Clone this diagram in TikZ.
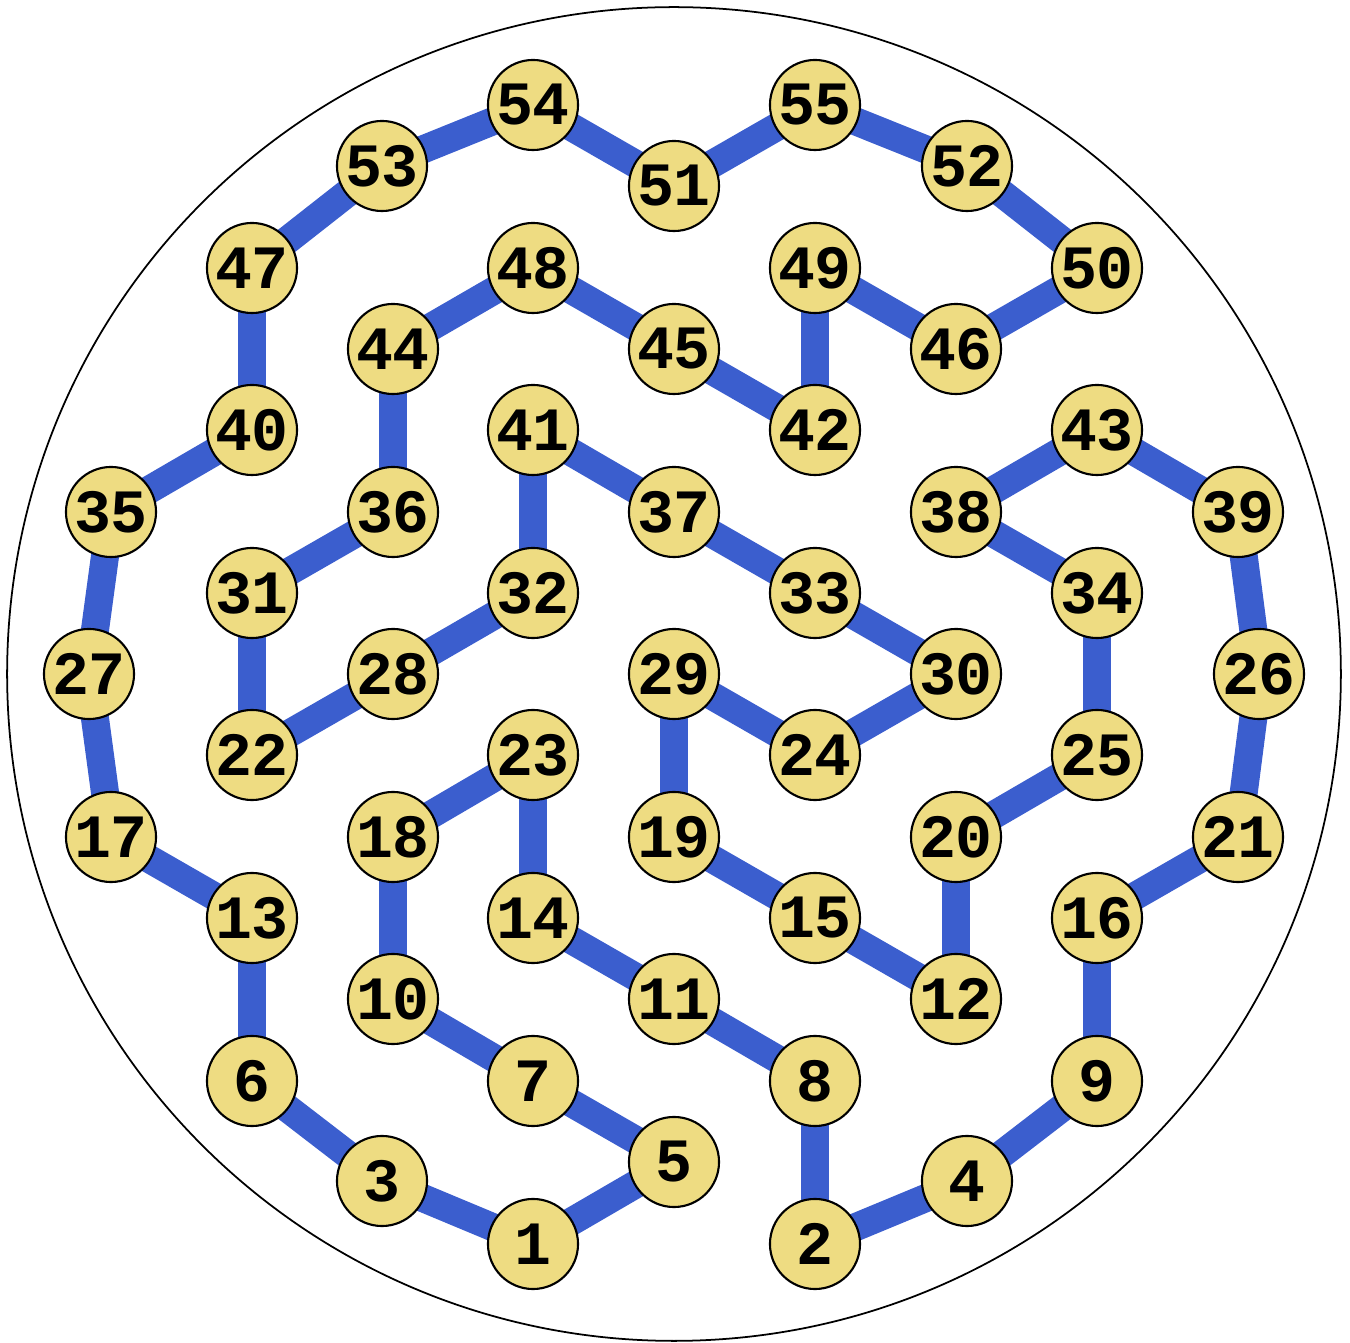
\documentclass[tikz,border=0pt]{standalone}
\usepackage{fontspec}
\newfontfamily\numfont{Liberation Mono}[BoldFont={Liberation Mono Bold}]
\definecolor{pathblue}{RGB}{59,94,206}
\definecolor{nodeyellow}{RGB}{238,220,130}
\tikzset{
  num/.style={circle, draw=black, line width=0.6pt, fill=nodeyellow, minimum size=0.9cm, inner sep=0pt, font=\numfont\bfseries\fontsize{17.5}{20}\selectfont},
  link/.style={draw=pathblue, line width=0.28cm},
}
\begin{document}
\begin{tikzpicture}[x=0.01cm,y=-0.01cm]
\useasboundingbox (0,0) rectangle (1350,1343);
\draw[line width=0.5pt] (674,674) circle [radius=6.665cm];
\foreach \n/\x/\y in {
1/533/1244, 2/815/1244, 3/382/1181, 4/967/1181, 5/674/1162,
6/252/1081, 7/533/1081, 8/815/1081, 9/1097/1081,
10/393/999, 11/674/999, 12/956/999,
13/252/918, 14/533/918, 15/815/918, 16/1097/918,
17/111/837, 18/393/837, 19/674/837, 20/956/837, 21/1238/837,
22/252/755, 23/533/755, 24/815/755, 25/1097/755,
26/1259/674, 27/89/674, 28/393/674, 29/674/674, 30/956/674,
31/252/593, 32/533/593, 33/815/593, 34/1097/593,
35/111/512, 36/393/512, 37/674/512, 38/956/512, 39/1238/512,
40/252/430, 41/533/430, 42/815/430, 43/1097/430,
44/393/349, 45/674/349, 46/956/349,
47/252/268, 48/533/268, 49/815/268, 50/1097/268,
51/674/186, 52/967/166, 53/382/166, 54/533/105, 55/815/105}
  \coordinate (c\n) at (\x,\y);
\foreach \a/\b in {
53/54, 54/51, 51/55, 55/52, 52/50, 50/46, 46/49, 49/42, 42/45, 45/48,
48/44, 44/36, 36/31, 31/22, 22/28, 28/32, 32/41, 41/37, 37/33, 33/30,
30/24, 24/29, 29/19, 19/15, 15/12, 12/20, 20/25, 25/34, 34/38, 38/43,
43/39, 39/26, 26/21, 21/16, 16/9, 9/4, 4/2, 2/8, 8/11, 11/14,
14/23, 23/18, 18/10, 10/7, 7/5, 5/1, 1/3, 3/6, 6/13, 13/17,
17/27, 27/35, 35/40, 40/47, 47/53}
  \draw[link] (c\a) -- (c\b);
\foreach \n in {1,...,55}
  \node[num] (n\n) at (c\n) {\n};
\end{tikzpicture}
\end{document}
